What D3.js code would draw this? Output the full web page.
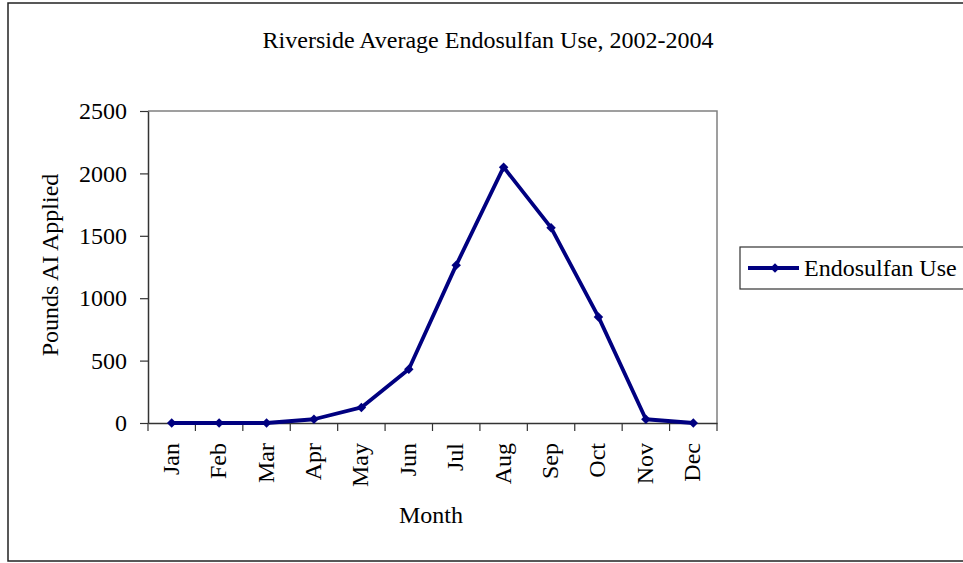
<!DOCTYPE html>
<html><head><meta charset="utf-8">
<script src="https://cdn.jsdelivr.net/npm/d3@7"></script>
<style>body{margin:0;background:#fff}svg{display:block}text{font-family:"Liberation Serif","Times New Roman",serif;fill:#000}</style>
</head><body>
<svg id="c" width="963" height="563"></svg>
<script>
const months = ["Jan","Feb","Mar","Apr","May","Jun","Jul","Aug","Sep","Oct","Nov","Dec"];
const endosulfan = [0, 0, 0, 30, 125, 430, 1265, 2050, 1565, 850, 30, 0];
const yTicks = [0, 500, 1000, 1500, 2000, 2500];
const seriesName = "Endosulfan Use";
const title = "Riverside Average Endosulfan Use, 2002-2004";

const FS = "24px";
const svg = d3.select("#c");
const L = 148, R = 717, T = 111, B = 423;
const x = d3.scaleBand().domain(months).range([L, R]);
const y = d3.scaleLinear().domain([0, 2500]).range([B, T]);

// outer frame
svg.append("rect").attr("x", 8).attr("y", 3).attr("width", 960).attr("height", 558)
  .attr("fill", "none").attr("stroke", "#222").attr("stroke-width", 1.5);

// title
svg.append("text").attr("x", 488).attr("y", 48).attr("text-anchor", "middle")
  .style("font-size", FS).text(title);

// plot border top/right
svg.append("path").attr("d", `M${L},${T}H${R}V${B}`).attr("fill", "none").attr("stroke", "#808080").attr("stroke-width", 1.5);

// y axis
const yAxis = svg.append("g").attr("transform", `translate(${L},0)`)
  .call(d3.axisLeft(y).tickValues(yTicks).tickFormat(d3.format("d")).tickSize(8).tickPadding(13).tickSizeOuter(0));
yAxis.attr("font-size", null).attr("font-family", null);
yAxis.select(".domain").attr("stroke", "#333").attr("stroke-width", 1.5);
yAxis.selectAll(".tick line").attr("stroke", "#333").attr("stroke-width", 1.2);
yAxis.selectAll("text").style("font-size", FS).attr("fill", "#000");

// x axis
const xAxis = svg.append("g").attr("transform", `translate(0,${B})`)
  .call(d3.axisBottom(x).tickSize(0).tickSizeOuter(0));
xAxis.attr("font-size", null).attr("font-family", null);
xAxis.select(".domain").attr("stroke", "#333").attr("stroke-width", 1.5);
xAxis.selectAll(".tick text").remove();
xAxis.selectAll(".tick").each(function(d){
  d3.select(this).append("text").attr("transform", `translate(7,20) rotate(-90)`).attr("text-anchor", "end")
    .style("font-size", FS).attr("fill", "#000").text(d);
});
// boundary ticks
const bounds = d3.range(months.length + 1).map(i => L + i * x.step());
svg.append("g").selectAll("line").data(bounds).join("line")
  .attr("x1", d => d).attr("x2", d => d).attr("y1", B).attr("y2", B + 8)
  .attr("stroke", "#333").attr("stroke-width", 1.2);

// axis titles
svg.append("text").attr("transform", `translate(58,265) rotate(-90)`).attr("text-anchor", "middle")
  .style("font-size", FS).text("Pounds AI Applied");
svg.append("text").attr("x", 431).attr("y", 523).attr("text-anchor", "middle")
  .style("font-size", FS).text("Month");

// series
const cx = d => x(d) + x.bandwidth() / 2;
const line = d3.line().x((d, i) => cx(months[i])).y(d => y(d));
svg.append("path").datum(endosulfan).attr("d", line).attr("fill", "none")
  .attr("stroke", "#000080").attr("stroke-width", 3.8).attr("stroke-linejoin", "round");
const marker = d3.symbol().type(d3.symbolSquare).size(45);
svg.append("g").selectAll("path").data(endosulfan).join("path")
  .attr("transform", (d, i) => `translate(${cx(months[i])},${y(d)}) rotate(45)`)
  .attr("d", marker).attr("fill", "#000080");

// legend
svg.append("rect").attr("x", 740).attr("y", 247).attr("width", 240).attr("height", 42)
  .attr("fill", "#fff").attr("stroke", "#333").attr("stroke-width", 1.2);
svg.append("line").attr("x1", 748).attr("x2", 799).attr("y1", 268).attr("y2", 268)
  .attr("stroke", "#000080").attr("stroke-width", 3.8);
svg.append("path").attr("transform", "translate(775,268) rotate(45)").attr("d", marker).attr("fill", "#000080");
svg.append("text").attr("x", 804).attr("y", 276).style("font-size", FS).text(seriesName);
</script>
</body></html>
